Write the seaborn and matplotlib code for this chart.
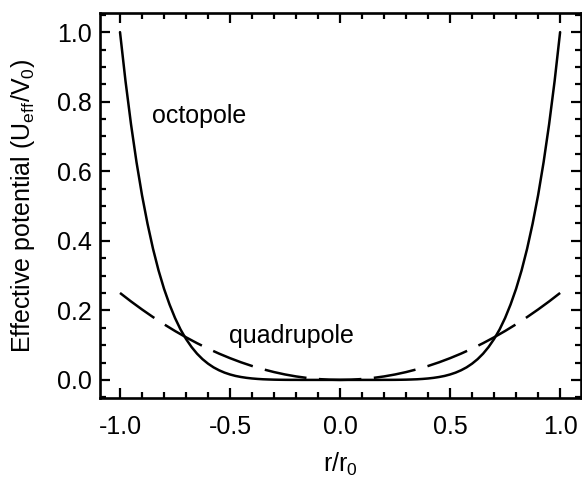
import numpy as np
import pandas as pd
import matplotlib
matplotlib.use("Agg")
import matplotlib.pyplot as plt
import seaborn as sns
from matplotlib.ticker import MultipleLocator

# Octopole effective potential, sampled every 0.025 in r/r0
r_oct = [-1.0, -0.975, -0.95, -0.925, -0.9, -0.875, -0.85, -0.825, -0.8, -0.775,
         -0.75, -0.725, -0.7, -0.675, -0.65, -0.625, -0.6, -0.575, -0.55, -0.525,
         -0.5, -0.475, -0.45, -0.425, -0.4, -0.375, -0.35, -0.325, -0.3, -0.275,
         -0.25, -0.225, -0.2, -0.175, -0.15, -0.125, -0.1, -0.075, -0.05, -0.025,
         0.0, 0.025, 0.05, 0.075, 0.1, 0.125, 0.15, 0.175, 0.2, 0.225,
         0.25, 0.275, 0.3, 0.325, 0.35, 0.375, 0.4, 0.425, 0.45, 0.475,
         0.5, 0.525, 0.55, 0.575, 0.6, 0.625, 0.65, 0.675, 0.7, 0.725,
         0.75, 0.775, 0.8, 0.825, 0.85, 0.875, 0.9, 0.925, 0.95, 0.975, 1.0]
u_oct = [1.0, 0.859, 0.735, 0.626, 0.531, 0.449, 0.377, 0.315, 0.262, 0.217,
         0.178, 0.145, 0.1176, 0.0946, 0.0754, 0.0596, 0.0467, 0.0361, 0.0277, 0.0209,
         0.0156, 0.0114, 0.0083, 0.0059, 0.0041, 0.0028, 0.0018, 0.0012, 0.0007, 0.0004,
         0.0002, 0.0001, 0.0001, 0.0, 0.0, 0.0, 0.0, 0.0, 0.0, 0.0,
         0.0, 0.0, 0.0, 0.0, 0.0, 0.0, 0.0, 0.0, 0.0001, 0.0001,
         0.0002, 0.0004, 0.0007, 0.0012, 0.0018, 0.0028, 0.0041, 0.0059, 0.0083, 0.0114,
         0.0156, 0.0209, 0.0277, 0.0361, 0.0467, 0.0596, 0.0754, 0.0946, 0.1176, 0.145,
         0.178, 0.217, 0.262, 0.315, 0.377, 0.449, 0.531, 0.626, 0.735, 0.859, 1.0]

# Quadrupole effective potential, sampled every 0.05 in r/r0
r_quad = [-1.0, -0.95, -0.9, -0.85, -0.8, -0.75, -0.7, -0.65, -0.6, -0.55,
          -0.5, -0.45, -0.4, -0.35, -0.3, -0.25, -0.2, -0.15, -0.1, -0.05,
          0.0, 0.05, 0.1, 0.15, 0.2, 0.25, 0.3, 0.35, 0.4, 0.45,
          0.5, 0.55, 0.6, 0.65, 0.7, 0.75, 0.8, 0.85, 0.9, 0.95, 1.0]
u_quad = [0.25, 0.2256, 0.2025, 0.1806, 0.16, 0.1406, 0.1225, 0.1056, 0.09, 0.0756,
          0.0625, 0.0506, 0.04, 0.0306, 0.0225, 0.0156, 0.01, 0.0056, 0.0025, 0.0006,
          0.0, 0.0006, 0.0025, 0.0056, 0.01, 0.0156, 0.0225, 0.0306, 0.04, 0.0506,
          0.0625, 0.0756, 0.09, 0.1056, 0.1225, 0.1406, 0.16, 0.1806, 0.2025, 0.2256, 0.25]

x_ticks = [-1.0, -0.5, 0.0, 0.5, 1.0]
y_ticks = [0.0, 0.2, 0.4, 0.6, 0.8, 1.0]

sns.set_theme(style="ticks")
plt.rcParams["font.family"] = ["Liberation Sans", "DejaVu Sans"]
plt.rcParams["mathtext.fontset"] = "custom"
plt.rcParams["mathtext.rm"] = "Liberation Sans"
plt.rcParams["mathtext.it"] = "Liberation Sans"
plt.rcParams["text.color"] = "black"
plt.rcParams["axes.labelcolor"] = "black"

FS = 18

fig = plt.figure(figsize=(5.82, 4.78), dpi=100)
ax = fig.add_axes([0.1718, 0.1674, 0.8265, 0.8054])

oct_df = pd.DataFrame({"r": r_oct, "U": u_oct})
quad_df = pd.DataFrame({"r": r_quad, "U": u_quad})

sns.lineplot(data=oct_df, x="r", y="U", ax=ax, color="black", lw=1.8, sort=False)
sns.lineplot(data=quad_df, x="r", y="U", ax=ax, color="black", lw=1.8, sort=False,
             linestyle=(0, (17, 5)))

ax.set_xlim(-1.091, 1.095)
ax.set_ylim(-0.052, 1.055)
ax.set_xticks(x_ticks)
ax.set_xticklabels([f"{v:.1f}" for v in x_ticks])
ax.set_yticks(y_ticks)
ax.set_yticklabels([f"{v:.1f}" for v in y_ticks])
ax.xaxis.set_minor_locator(MultipleLocator(0.1))
ax.yaxis.set_minor_locator(MultipleLocator(0.05))

ax.tick_params(which="both", direction="in", top=True, right=True,
               width=1.6, color="black", labelsize=FS, labelcolor="black")
ax.tick_params(which="major", length=7)
ax.tick_params(which="minor", length=4)
ax.tick_params(axis="x", which="major", pad=12)
ax.tick_params(axis="y", which="major", pad=6)

for s in ax.spines.values():
    s.set_linewidth(1.9)
    s.set_color("black")

ax.set_xlabel(r"r/r$_\mathregular{0}$", fontsize=FS, labelpad=9, color="black")
ax.set_ylabel(r"Effective potential (U$_\mathregular{eff}$/V$_\mathregular{0}$)",
              fontsize=FS, labelpad=14, color="black")

ax.text(-0.64, 0.76, "octopole", fontsize=FS, ha="center", va="center", color="black")
ax.text(-0.22, 0.126, "quadrupole", fontsize=FS, ha="center", va="center", color="black")

fig.savefig("out.png", dpi=100)
